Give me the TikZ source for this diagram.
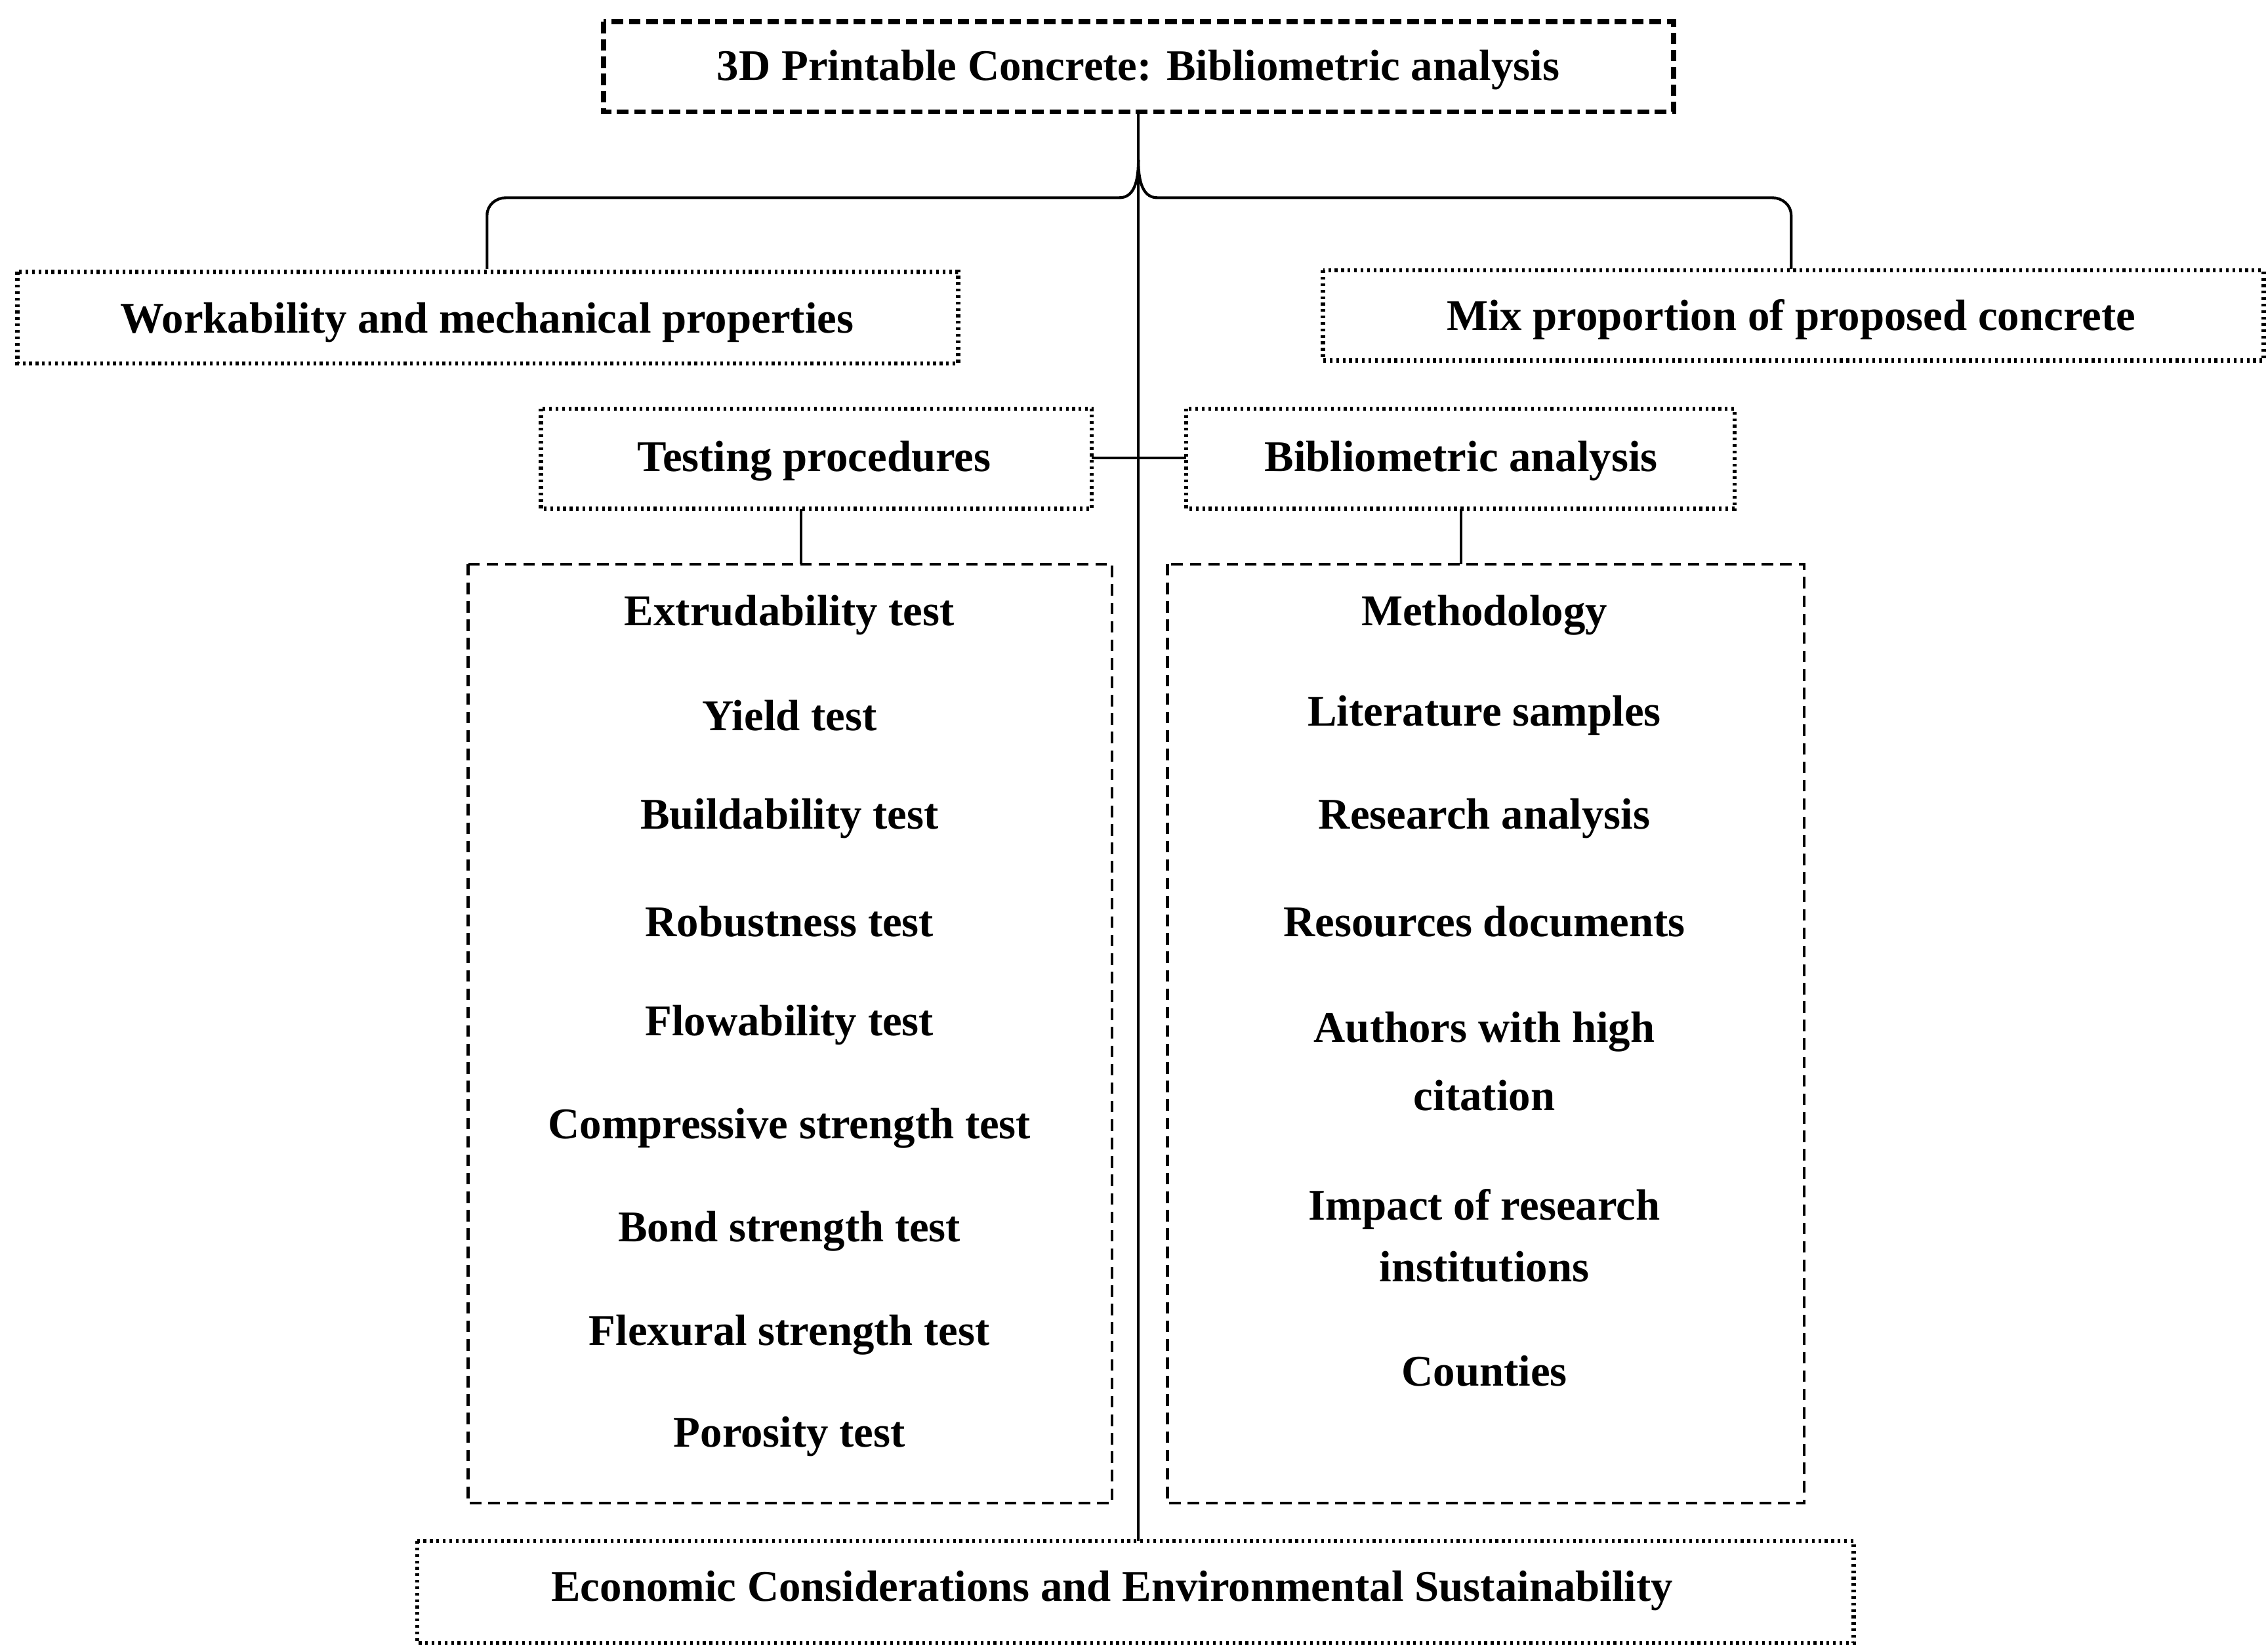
\documentclass[tikz,border=0pt]{standalone}
\usepackage{fontspec}
\setmainfont{Liberation Serif}
\begin{document}
\begin{tikzpicture}[x=0.02216cm,y=-0.02216cm,
 lbl/.style={font=\fontsize{19}{23}\selectfont\bfseries,align=center},
 dotbox/.style={draw,line width=1.8pt,dash pattern=on 1.2pt off 1.6pt},
 dashbox/.style={draw,line width=1.2pt,dash pattern=on 5pt off 3pt},
 titlebox/.style={draw,line width=2.2pt,dash pattern=on 5pt off 2.5pt},
 ln/.style={line width=1.2pt}]
\useasboundingbox (0,0) rectangle (1560,1136);
\draw[titlebox] (415,15) rectangle (1151,77);
\node[lbl] (top) at (783,48) {3D Printable Concrete: Bibliometric analysis};
\coordinate (topb) at (783,77);
\draw[dotbox] (12,187) rectangle (659,250);
\node[lbl] (wm) at (335,222) {Workability and mechanical properties};
\draw[dotbox] (910,186) rectangle (1557,248);
\node[lbl] (mp) at (1232,220) {Mix proportion of proposed concrete};
\draw[dotbox] (372,281) rectangle (751,350);
\node[lbl] (tp) at (560,317) {Testing procedures};
\draw[dotbox] (816,281) rectangle (1193,350);
\node[lbl] (ba) at (1005,317) {Bibliometric analysis};
\draw[dashbox] (322,388) rectangle (765,1034);
\draw[dashbox] (803,388) rectangle (1241,1034);
\draw[dotbox] (287,1060) rectangle (1275,1130);
\node[lbl] (ec) at (765,1094) {Economic Considerations and Environmental Sustainability};
% brace
\coordinate (bl) at (335,185);
\coordinate (br) at (1232,185);
\draw[ln] (bl) -- (335,148) to[out=90,in=180] (348,136) -- (770,136) to[out=0,in=-90] (783,110);
\draw[ln] (br) -- (1232,148) to[out=90,in=0] (1219,136) -- (796,136) to[out=180,in=-90] (783,110);
\draw[ln] (topb) -- (783,1060);
\draw[ln] (751,315) -- (816,315);
\draw[ln] (551,350) -- (551,388);
\draw[ln] (1005,350) -- (1005,388);
\foreach \t/\y [count=\i] in {Extrudability test/423,Yield test/492,Buildability test/563,Robustness test/634,Flowability test/705,Compressive strength test/776,Bond strength test/847,Flexural strength test/918,Porosity test/988}
 \node[lbl] (l\i) at (543,\y) {\t};
\node[lbl] (r1) at (1021,423) {Methodology};
\node[lbl] (r2) at (1021,492) {Literature samples};
\node[lbl] (r3) at (1021,563) {Research analysis};
\node[lbl] (r4) at (1021,634) {Resources documents};
\node[lbl] (r5) at (1021,730) {Authors with high\\[0.35em]citation};
\node[lbl] (r6) at (1021,850) {Impact of research\\[0.2em]institutions};
\node[lbl] (r7) at (1021,943) {Counties};
\end{tikzpicture}
\end{document}
